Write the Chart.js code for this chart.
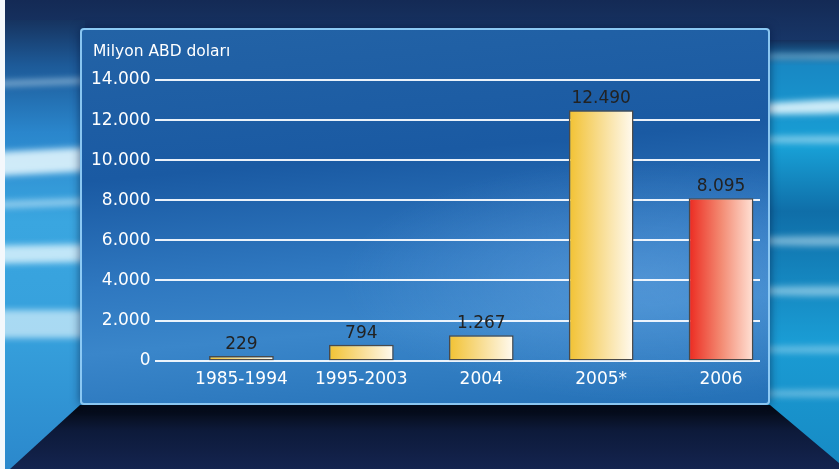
<!DOCTYPE html>
<html>
<head>
<meta charset="utf-8">
<script src="https://cdn.jsdelivr.net/npm/chart.js@4"></script>
<style>
  html, body { margin: 0; padding: 0; }
  body {
    width: 839px; height: 469px; position: relative; overflow: hidden;
    background: linear-gradient(180deg, #142a55 0%, #183a6e 12%, #1d5a98 40%, #1d5a98 100%);
  }
  .side { position: absolute; overflow: hidden; }
  #left {
    left: 5px; top: 20px; width: 80px; height: 449px;
    background: linear-gradient(180deg, #16335f 0%, #1d5a98 10%, #2a86cc 25%, #3aa6e0 45%, #36a0dc 70%, #2b88cc 100%);
  }
  #right {
    left: 765px; top: 40px; width: 74px; height: 429px;
    background: linear-gradient(180deg, #15305c 0%, #1888c4 6%, #18a0d6 25%, #0f6ea8 40%, #1a9cd4 70%, #178ac4 100%);
  }
  #edge { position: absolute; left: 0; top: 0; width: 5px; height: 469px; background: #f4f8fc; }
  .streak { position: absolute; border-radius: 40%; filter: blur(3px); background: rgba(235,250,255,0.85); }
  #floor {
    position: absolute; left: 0; top: 405px; width: 839px; height: 64px;
    background: linear-gradient(180deg, #03070f 0%, #0d1a3a 40%, #14244f 100%);
    clip-path: polygon(80px 0, 770px 0, 839px 58px, 839px 64px, 10px 64px);
  }
  #panel {
    position: absolute; left: 80px; top: 28px; width: 686px; height: 373px;
    border: 2px solid rgba(150,210,250,0.9); border-radius: 4px;
    background:
      radial-gradient(ellipse 300px 120px at 560px 250px, rgba(110,170,230,0.45), rgba(110,170,230,0) 100%),
      linear-gradient(175deg, #2363a6 0%, #1a5aa3 35%, #2f78c0 60%, #3a86ca 75%, #2470b6 100%);
    box-shadow: 0 0 10px rgba(0,20,60,0.6);
  }
  canvas { position: absolute; left: 0; top: 0; }
</style>
</head>
<body>
<div id="left" class="side">
  <div class="streak" style="left:-120px; top:60px; width:300px; height:5px; opacity:0.6; transform:rotate(-2deg)"></div>
  <div class="streak" style="left:-120px; top:130px; width:300px; height:24px; transform:rotate(-3deg)"></div>
  <div class="streak" style="left:-120px; top:180px; width:300px; height:7px; opacity:0.6; transform:rotate(-2deg)"></div>
  <div class="streak" style="left:-120px; top:225px; width:300px; height:18px; opacity:0.9; transform:rotate(-1deg)"></div>
  <div class="streak" style="left:-120px; top:290px; width:300px; height:28px; opacity:0.75"></div>
</div>
<div id="right" class="side">
  <div class="streak" style="left:-40px; top:14px; width:300px; height:5px; opacity:0.5"></div>
  <div class="streak" style="left:-40px; top:58px; width:300px; height:14px; transform:rotate(-2deg)"></div>
  <div class="streak" style="left:-40px; top:96px; width:300px; height:7px; opacity:0.6"></div>
  <div class="streak" style="left:-40px; top:196px; width:300px; height:10px; opacity:0.55"></div>
  <div class="streak" style="left:-40px; top:246px; width:300px; height:10px; opacity:0.55"></div>
  <div class="streak" style="left:-40px; top:306px; width:300px; height:7px; opacity:0.45"></div>
  <div class="streak" style="left:-40px; top:350px; width:300px; height:7px; opacity:0.45"></div>
</div>
<div id="edge"></div>
<div id="floor"></div>
<div id="panel"></div>
<canvas id="chart" width="839" height="469"></canvas>
<script>
const categories = ['1985-1994', '1995-2003', '2004', '2005*', '2006'];
const values = [229, 794, 1267, 12490, 8095];
const valueLabels = ['229', '794', '1.267', '12.490', '8.095'];
const yTicks = [0, 2000, 4000, 6000, 8000, 10000, 12000, 14000];
const unitTitle = 'Milyon ABD doları';

const FONT = 'DejaVu Sans';
const barFrac = 0.54;

function barGradient(ctx) {
  const chart = ctx.chart;
  const area = chart.chartArea;
  if (!area) return '#f2c232';
  const x = chart.scales.x;
  const cx = x.getPixelForValue(ctx.dataIndex);
  const half = (x.width / categories.length) * barFrac / 2;
  const g = chart.ctx.createLinearGradient(cx - half, 0, cx + half, 0);
  if (ctx.dataIndex === categories.length - 1) {
    g.addColorStop(0, '#ec2a20');
    g.addColorStop(0.5, '#f38a72');
    g.addColorStop(1, '#ffe2d6');
  } else {
    g.addColorStop(0, '#f2c232');
    g.addColorStop(0.5, '#f8dd92');
    g.addColorStop(1, '#fffaf0');
  }
  return g;
}

const decor = {
  id: 'decor',
  beforeDatasetsDraw(chart) {
    const c = chart.ctx;
    const y = chart.scales.y;
    c.save();
    c.strokeStyle = 'rgba(245,250,255,0.95)';
    c.lineWidth = 2;
    yTicks.forEach(v => {
      const py = Math.round(y.getPixelForValue(v));
      c.beginPath();
      c.moveTo(155, py);
      c.lineTo(760, py);
      c.stroke();
    });
    c.fillStyle = '#ffffff';
    c.font = '15.5px ' + FONT;
    c.textAlign = 'left';
    c.textBaseline = 'middle';
    c.fillText(unitTitle, 93, 52);
    c.restore();
  },
  afterDatasetsDraw(chart) {
    const c = chart.ctx;
    const meta = chart.getDatasetMeta(0);
    c.save();
    c.fillStyle = '#222222';
    c.font = '17px ' + FONT;
    c.textAlign = 'center';
    c.textBaseline = 'bottom';
    meta.data.forEach((bar, i) => {
      c.fillText(valueLabels[i], bar.x, bar.y - 3);
    });
    c.restore();
  }
};

new Chart(document.getElementById('chart'), {
  type: 'bar',
  data: {
    labels: categories,
    datasets: [{
      data: values,
      backgroundColor: barGradient,
      borderColor: '#4a4a4a',
      borderWidth: 1.5,
      borderSkipped: false,
      barPercentage: barFrac,
      categoryPercentage: 1
    }]
  },
  options: {
    responsive: false,
    animation: false,
    layout: { padding: { left: 60, right: 58, top: 80, bottom: 70 } },
    plugins: {
      legend: { display: false },
      tooltip: { enabled: false }
    },
    scales: {
      x: {
        grid: { display: false, drawTicks: false },
        border: { display: false },
        ticks: { color: '#ffffff', font: { family: FONT, size: 17 }, padding: 9 }
      },
      y: {
        min: 0, max: 14000,
        afterBuildTicks: (axis) => { axis.ticks = yTicks.map(v => ({ value: v })); },
        grid: { display: false, drawTicks: false },
        border: { display: false },
        ticks: {
          color: '#ffffff',
          font: { family: FONT, size: 17 },
          padding: 31,
          callback: (v) => v.toLocaleString('de-DE')
        }
      }
    }
  },
  plugins: [decor]
});
</script>
</body>
</html>
